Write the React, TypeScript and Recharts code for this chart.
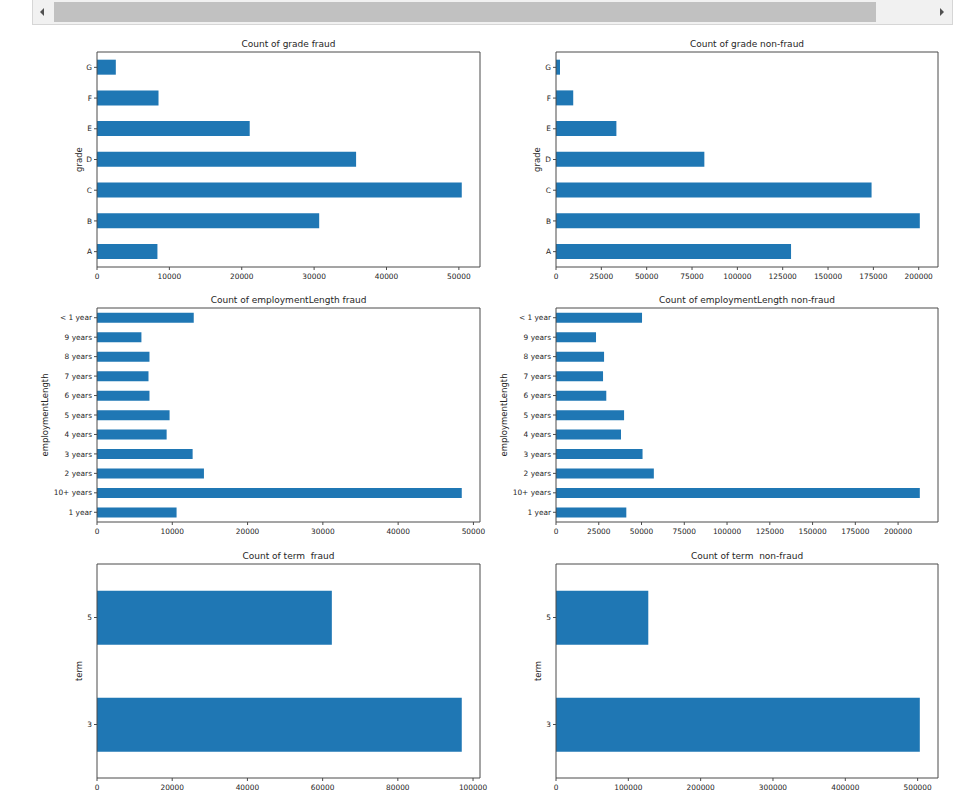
import React from 'react';
import { BarChart, Bar, XAxis, YAxis, Label } from 'recharts';

// Category labels and counts for each panel
const gradeLabels = ['A', 'B', 'C', 'D', 'E', 'F', 'G'];
const gradeFraud = [8350, 30700, 50400, 35800, 21100, 8500, 2600];
const gradeNonFraud = [129600, 200600, 174000, 81800, 33300, 9500, 2200];

const empLabels = ['1 year', '10+ years', '2 years', '3 years', '4 years', '5 years', '6 years', '7 years', '8 years', '9 years', '< 1 year'];
const empFraud = [10570, 48450, 14200, 12700, 9250, 9640, 6970, 6840, 6970, 5900, 12850];
const empNonFraud = [41100, 212700, 57200, 50600, 38000, 39800, 29400, 27500, 28100, 23400, 50300];

const termLabels = ['3', '5'];
const termFraud = [97000, 62450];
const termNonFraud = [503000, 127600];

// Tick values for the count axes
const ticks50k = [0, 10000, 20000, 30000, 40000, 50000];
const ticks200k = [0, 25000, 50000, 75000, 100000, 125000, 150000, 175000, 200000];
const ticks100k = [0, 20000, 40000, 60000, 80000, 100000];
const ticks500k = [0, 100000, 200000, 300000, 400000, 500000];

const BAR = '#1f77b4';
const SPINE = '#4a4a4a';
const TEXT = '#262626';
const FONT = 'DejaVu Sans, sans-serif';

const toRows = (labels: string[], values: number[]) =>
  labels.map((name, i) => ({ name, count: values[i] }));

type PanelProps = {
  title: string;
  axisLabel: string;
  labels: string[];
  values: number[];
  ticks: number[];
  chartLeft: number;
  plotTop: number;
  plotW: number;
  plotH: number;
  yAxisW: number;
  labelOffset: number;
};

const Panel = ({ title, axisLabel, labels, values, ticks, chartLeft, plotTop, plotW, plotH, yAxisW, labelOffset }: PanelProps) => {
  const data = toRows(labels, values);
  const rightPad = 24;
  const xAxisH = 20;
  const domain: [number, (m: number) => number] = [0, (m: number) => m * 1.05];
  const tickStyle = { fontSize: 7.4, fill: TEXT, fontFamily: FONT };
  return (
    <>
      <div
        style={{
          position: 'absolute',
          left: chartLeft + yAxisW,
          top: plotTop - 14,
          width: plotW,
          height: 12,
          lineHeight: '12px',
          textAlign: 'center',
          fontFamily: FONT,
          fontSize: 9,
          color: TEXT,
          whiteSpace: 'pre',
        }}
      >
        {title}
      </div>
      <div style={{ position: 'absolute', left: chartLeft, top: plotTop - 1 }}>
        <BarChart
          width={yAxisW + plotW + 1 + rightPad}
          height={1 + plotH + xAxisH}
          data={data}
          layout="vertical"
          margin={{ top: 0, right: rightPad, bottom: 0, left: 0 }}
          barCategoryGap="25%"
        >
          <XAxis
            type="number"
            domain={domain}
            ticks={ticks}
            interval={0}
            height={xAxisH}
            tickSize={3}
            tickMargin={4}
            tick={tickStyle}
            stroke={SPINE}
            axisLine={{ stroke: SPINE }}
            tickLine={{ stroke: SPINE }}
          />
          <XAxis
            xAxisId="top"
            orientation="top"
            type="number"
            domain={domain}
            height={1}
            tick={false}
            tickLine={false}
            stroke={SPINE}
            axisLine={{ stroke: SPINE }}
          />
          <YAxis
            type="category"
            dataKey="name"
            reversed
            width={yAxisW}
            interval={0}
            tickSize={3}
            tickMargin={2}
            tick={tickStyle}
            stroke={SPINE}
            axisLine={{ stroke: SPINE }}
            tickLine={{ stroke: SPINE }}
          >
            <Label
              value={axisLabel}
              angle={-90}
              position="insideLeft"
              offset={labelOffset}
              style={{ textAnchor: 'middle', fontSize: 8.5, fill: TEXT, fontFamily: FONT }}
            />
          </YAxis>
          <YAxis
            yAxisId="right"
            orientation="right"
            type="category"
            dataKey="name"
            reversed
            width={1}
            tick={false}
            tickLine={false}
            stroke={SPINE}
            axisLine={{ stroke: SPINE }}
          />
          <Bar dataKey="count" fill={BAR} isAnimationActive={false} />
        </BarChart>
      </div>
    </>
  );
};

const ScrollBar = () => (
  <>
    <div
      style={{
        position: 'absolute',
        left: 32,
        top: -1,
        width: 919,
        height: 24,
        background: '#f1f1f1',
        border: '1px solid #d6d6d6',
      }}
    />
    <div style={{ position: 'absolute', left: 54, top: 2, width: 822, height: 20, background: '#c1c1c1' }} />
    <div
      style={{
        position: 'absolute',
        left: 40,
        top: 8,
        width: 0,
        height: 0,
        borderTop: '4px solid transparent',
        borderBottom: '4px solid transparent',
        borderRight: '4px solid #505050',
      }}
    />
    <div
      style={{
        position: 'absolute',
        left: 940,
        top: 8,
        width: 0,
        height: 0,
        borderTop: '4px solid transparent',
        borderBottom: '4px solid transparent',
        borderLeft: '4px solid #505050',
      }}
    />
  </>
);

export default function App() {
  const leftCol = { chartLeft: 30, yAxisW: 67, plotW: 383 };
  const rightCol = { chartLeft: 490, yAxisW: 66, plotW: 382 };
  return (
    <div style={{ position: 'absolute', left: 0, top: 0, width: 955, height: 812, background: '#fff', overflow: 'hidden' }}>
      <ScrollBar />
      <Panel title="Count of grade fraud" axisLabel="grade" labels={gradeLabels} values={gradeFraud} ticks={ticks50k}
        {...leftCol} plotTop={52} plotH={215} labelOffset={49} />
      <Panel title="Count of grade non-fraud" axisLabel="grade" labels={gradeLabels} values={gradeNonFraud} ticks={ticks200k}
        {...rightCol} plotTop={52} plotH={215} labelOffset={47} />
      <Panel title="Count of employmentLength fraud" axisLabel="employmentLength" labels={empLabels} values={empFraud} ticks={ticks50k}
        {...leftCol} plotTop={308} plotH={214} labelOffset={15} />
      <Panel title="Count of employmentLength non-fraud" axisLabel="employmentLength" labels={empLabels} values={empNonFraud} ticks={ticks200k}
        {...rightCol} plotTop={308} plotH={214} labelOffset={14} />
      <Panel title="Count of term  fraud" axisLabel="term" labels={termLabels} values={termFraud} ticks={ticks100k}
        {...leftCol} plotTop={564} plotH={214} labelOffset={49} />
      <Panel title="Count of term  non-fraud" axisLabel="term" labels={termLabels} values={termNonFraud} ticks={ticks500k}
        {...rightCol} plotTop={564} plotH={214} labelOffset={48} />
    </div>
  );
}
